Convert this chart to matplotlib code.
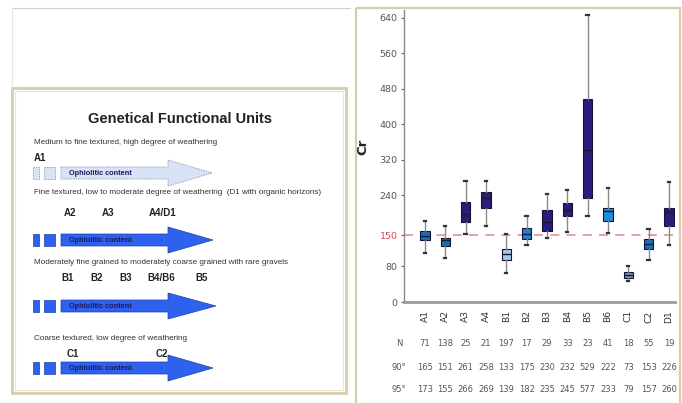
import matplotlib
matplotlib.use("Agg")
import matplotlib.pyplot as plt
from matplotlib.patches import Polygon, Rectangle
from matplotlib import transforms

# ---- data ----
units = ["A1", "A2", "A3", "A4", "B1", "B2", "B3", "B4", "B5", "B6", "C1", "C2", "D1"]
whis_lo = [111, 100, 152, 172, 65, 129, 145, 158, 194, 155, 48, 95, 129]
q1 = [139, 126, 179, 212, 94, 141, 160, 193, 233, 182, 53, 119, 171]
medians = [149, 139, 199, 235, 107, 154, 180, 206, 341, 204, 61, 130, 203]
q3 = [159, 145, 224, 248, 120, 166, 206, 223, 456, 212, 67, 141, 212]
whis_hi = [182, 170, 272, 272, 152, 193, 244, 251, 645, 257, 81, 165, 270]
n_count = [71, 138, 25, 21, 197, 17, 29, 33, 23, 41, 18, 55, 19]
p90 = [165, 151, 261, 258, 133, 175, 230, 232, 529, 222, 73, 153, 226]
p95 = [173, 155, 266, 269, 139, 182, 235, 245, 577, 233, 79, 157, 260]
threshold = 150
y_ticks = [0, 80, 150, 240, 320, 400, 480, 560, 640]

box_colors = ["#1d6db3", "#1a6cb0", "#2a1c7c", "#2a1c7c", "#a6c8e8", "#1f82cf",
              "#2a1c7c", "#2a1c7c", "#2a1c7c", "#1e8ddb", "#6f95be", "#1b72b8", "#2a1c7c"]

W, H = 682, 403
fig = plt.figure(figsize=(W / 100, H / 100), dpi=100)
fig.patch.set_facecolor("white")

# background overlay in pixel coordinates
bg = fig.add_axes([0, 0, 1, 1])
bg.set_xlim(0, W)
bg.set_ylim(H, 0)
bg.axis("off")

# frames
bg.plot([12, 350], [8, 8], color="#cfcfcf", lw=0.8)
bg.plot([12, 12], [8, 88], color="#e6e6e6", lw=0.8)
bg.add_patch(Rectangle((12, 88), 334, 305, fill=False, ec="#d6cdaa", lw=2.0))
bg.add_patch(Rectangle((15, 91), 328, 299, fill=False, ec="#ebe5cf", lw=0.8))
bg.add_patch(Rectangle((356, 8), 324, 400, fill=False, ec="#d6cdaa", lw=1.6))

# ---- left diagram ----
bg.text(180, 119, "Genetical Functional Units", ha="center", va="center",
        fontsize=10.5, fontweight="bold", color="#222222", family="Liberation Sans")

desc_kw = dict(ha="left", va="center", fontsize=5.9, color="#333333", family="Liberation Sans")
unit_kw = dict(ha="center", va="center", fontsize=7, fontweight="bold", color="#222222",
               family="Liberation Sans")

rows = [
    dict(desc="Medium to fine textured, high degree of weathering", dy=143,
         labels=[("A1", 40)], ly=158, cy=173, light=True, tip=212),
    dict(desc="Fine textured, low to moderate degree of weathering  (D1 with organic horizons)",
         dy=193, labels=[("A2", 70), ("A3", 108), ("A4/D1", 163)], ly=213, cy=240,
         light=False, tip=213),
    dict(desc="Moderately fine grained to moderately coarse grained with rare gravels",
         dy=263, labels=[("B1", 68), ("B2", 97), ("B3", 126), ("B4/B6", 161), ("B5", 202)],
         ly=278, cy=306, light=False, tip=216),
    dict(desc="Coarse textured, low degree of weathering", dy=338,
         labels=[("C1", 73), ("C2", 162)], ly=354, cy=368, light=False, tip=213),
]

for r in rows:
    bg.text(34, r["dy"], r["desc"], **desc_kw)
    for lab, x in r["labels"]:
        bg.text(x, r["ly"], lab, **unit_kw)
    cy = r["cy"]
    if r["light"]:
        fc, ec, ls, lw = "#d9e3f7", "#9aa6bb", (0, (1.5, 1)), 0.7
    else:
        fc, ec, ls, lw = "#2e62ee", "#1d3fa8", "-", 0.5
    hb, hh = 6, 13
    bg.add_patch(Rectangle((33, cy - hb), 6, 2 * hb, fc=fc, ec=ec, ls=ls, lw=lw))
    bg.add_patch(Rectangle((44, cy - hb), 11, 2 * hb, fc=fc, ec=ec, ls=ls, lw=lw))
    tip = r["tip"]
    neck = 168
    arrow = [(61, cy - hb), (neck, cy - hb), (neck, cy - hh), (tip, cy),
             (neck, cy + hh), (neck, cy + hb), (61, cy + hb)]
    bg.add_patch(Polygon(arrow, closed=True, fc=fc, ec=ec, ls=ls, lw=lw))
    bg.text(69, cy + 0.5, "Ophiolitic content", ha="left", va="center", fontsize=5.3,
            fontweight="bold", color="#1a1a5a", family="Liberation Sans")

# ---- boxplot ----
ax = fig.add_axes([404 / W, (H - 302) / H, (675 - 404) / W, (302 - 10) / H])
ax.set_facecolor("white")

stats = []
for i, u in enumerate(units):
    stats.append(dict(label=u, med=medians[i], q1=q1[i], q3=q3[i],
                      whislo=whis_lo[i], whishi=whis_hi[i], fliers=[]))

positions = list(range(len(units)))
bp = ax.bxp(stats, positions=positions, widths=0.46, patch_artist=True,
            showfliers=False,
            boxprops=dict(edgecolor="#15123a", linewidth=0.8),
            medianprops=dict(color="#1a1a2a", linewidth=1.0),
            whiskerprops=dict(color="#8a8a8a", linewidth=1.0),
            capprops=dict(color="#333333", linewidth=1.6))
for patch, c in zip(bp["boxes"], box_colors):
    patch.set_facecolor(c)
for cap in bp["caps"]:
    xd = cap.get_xdata()
    mid = (xd[0] + xd[1]) / 2
    cap.set_xdata([mid - 0.06, mid + 0.06])

ax.axhline(threshold, color="#e59a9a", lw=1.3, ls=(0, (5, 4)), zorder=0.5)

ax.set_xlim(-1.03, 12.3)
ax.set_ylim(0, 657)
ax.set_yticks(y_ticks)
ax.set_yticklabels([str(v) for v in y_ticks])
for lab in ax.get_yticklabels():
    lab.set_color("#d24b4b" if lab.get_text() == str(threshold) else "#555555")
ax.tick_params(axis="y", labelsize=6.8, length=2.5, width=0.8, color="#666666", pad=2)
ax.set_xticks(positions)
ax.set_xticklabels(units, rotation=90, fontsize=6.6, color="#333333")
ax.tick_params(axis="x", length=0, pad=6)

for s in ["top", "right"]:
    ax.spines[s].set_visible(False)
ax.spines["left"].set_color("#8a8a8a")
ax.spines["left"].set_linewidth(1.0)
ax.spines["bottom"].set_color("#9a9a9a")
ax.spines["bottom"].set_linewidth(2.0)

ax.set_ylabel("Cr", fontsize=9.5, color="#222222", fontweight="bold")
ax.yaxis.set_label_coords(-0.128, 0.53)

# summary rows under the axis
tr = transforms.blended_transform_factory(ax.transData, fig.transFigure)
row_y = [(H - 344) / H, (H - 367) / H, (H - 389) / H]
row_names = ["N", "90°", "95°"]
for name, vals, yy in zip(row_names, [n_count, p90, p95], row_y):
    ax.text(-1.28, yy, name, transform=tr, ha="center", va="center",
            fontsize=6, color="#555555", clip_on=False)
    for i, v in enumerate(vals):
        ax.text(positions[i], yy, str(v), transform=tr, ha="center", va="center",
                fontsize=6, color="#555555", clip_on=False)

fig.savefig("out.png", dpi=100, facecolor="white")
